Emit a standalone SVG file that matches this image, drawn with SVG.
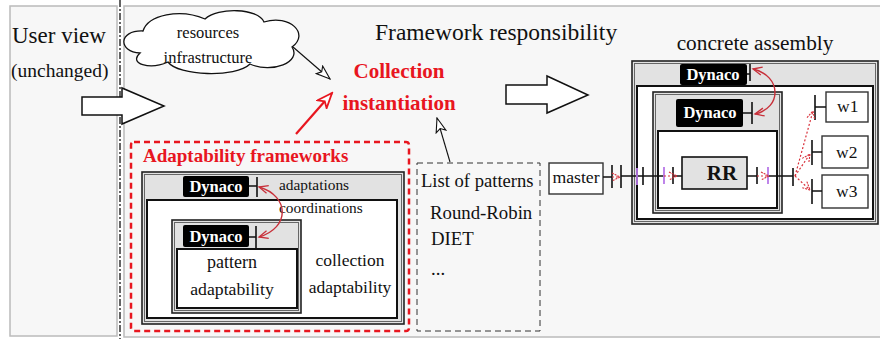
<svg xmlns="http://www.w3.org/2000/svg" width="880" height="339" viewBox="0 0 880 339">
<defs>
<style>
text{font-family:"Liberation Serif","Times New Roman",serif;fill:#111}
.b{font-weight:bold}
.red{fill:#e8161f}
.dyn{fill:#fff;font-weight:bold;font-size:16.5px}
.mid{text-anchor:middle}
.panel{fill:#f7f7f7;stroke:#bbb;stroke-width:1.5}
.gbox{fill:#e2e2e2;stroke:#222;stroke-width:1.6}
.gin{fill:none;stroke:#666;stroke-width:1}
.wbox{fill:#fff;stroke:#111;stroke-width:2}
.node{fill:#fff;stroke:#333;stroke-width:1.4}
.port{stroke:#111;stroke-width:1.6;fill:none}
.pur{stroke:#b878e8;stroke-width:1.8}
.rdot{stroke:#d8303a;stroke-width:1.2;stroke-dasharray:2 2;fill:none}
.rcur{stroke:#c8303a;stroke-width:1.4;fill:none}
.big{fill:#fff;stroke:#111;stroke-width:1.5}
</style>
<marker id="hollow" markerWidth="16" markerHeight="12" refX="15" refY="6" orient="auto" markerUnits="userSpaceOnUse">
<path d="M1,1 L15,6 L1,11 L4,6 Z" fill="#fff" stroke="#111" stroke-width="1.1"/>
</marker>
<marker id="redhead" markerWidth="18" markerHeight="14" refX="16" refY="7" orient="auto" markerUnits="userSpaceOnUse">
<path d="M1,1 L16,7 L1,13 L5,7 Z" fill="#fff" stroke="#e8161f" stroke-width="1.8"/>
</marker>
<marker id="vhead" markerWidth="12" markerHeight="10" refX="10" refY="5" orient="auto-start-reverse" markerUnits="userSpaceOnUse">
<path d="M1,1 L10,5 L1,9" fill="none" stroke="#c8303a" stroke-width="1.3"/>
</marker>
<marker id="dhead" markerWidth="10" markerHeight="10" refX="9" refY="5" orient="auto" markerUnits="userSpaceOnUse">
<path d="M1,1 L9,5 L1,9" fill="none" stroke="#d8303a" stroke-width="1.1" stroke-dasharray="2 1"/>
</marker>
</defs>
<rect width="880" height="339" fill="#fff"/>

<g id="user-panel">
<rect class="panel" x="10" y="6" width="107" height="330"/>
<text x="12" y="43" font-size="23">User view</text>
<text x="11" y="77" font-size="19.5">(unchanged)</text>
</g>
<g id="framework-panel">
<rect class="panel" x="124" y="6" width="770" height="331"/>
<text x="375" y="40" font-size="23.5">Framework responsibility</text>
</g>
<line x1="120" y1="0" x2="120" y2="339" stroke="#111" stroke-width="1.3" stroke-dasharray="7 2 2 2"/>

<g id="cloud">
<path d="M140,53 C118,52 118,30 143,31 C148,15 180,8 205,19 C218,7 258,8 264,22 C290,14 310,34 292,47 C302,62 272,74 250,64 C236,78 178,76 168,62 C150,70 128,64 140,53 Z" fill="#fff" stroke="#111" stroke-width="1.3"/>
<text class="mid" x="208" y="38" font-size="16.5">resources</text>
<text class="mid" x="208" y="63" font-size="16.5">infrastructure</text>
</g>

<g id="collection-instantiation">
<text class="b red mid" x="399" y="78" font-size="21">Collection</text>
<text class="b red mid" x="399" y="110" font-size="21">instantiation</text>
</g>

<g id="adaptability-frameworks">
<rect x="131" y="142" width="278" height="189" rx="3" fill="none" stroke="#e8161f" stroke-width="2.5" stroke-dasharray="6 4"/>
<text class="b red" x="143" y="162" font-size="19">Adaptability frameworks</text>
<rect class="gbox" x="142" y="172" width="262" height="152"/>
<rect class="gin" x="144.5" y="174.5" width="257" height="147"/>
<rect class="wbox" x="147" y="200" width="250" height="118"/>
<rect x="183" y="176" width="66" height="21" rx="2" fill="#000"/>
<text class="dyn mid" x="216" y="192">Dynaco</text>
<path class="port" d="M249,186 H257 M257,177 V197"/>
<text x="279" y="190" font-size="15.4">adaptations</text>
<text x="279" y="213" font-size="15.4">coordinations</text>
<rect class="gbox" x="172" y="220" width="129" height="93"/>
<rect class="gin" x="174.5" y="222.5" width="124" height="88"/>
<rect x="183" y="225" width="66" height="22" rx="2" fill="#000"/>
<text class="dyn mid" x="216" y="242">Dynaco</text>
<path class="port" d="M249,237 H256 M256,226 V250"/>
<rect class="wbox" x="177" y="249" width="120" height="59"/>
<text class="mid" x="232" y="268" font-size="18">pattern</text>
<text class="mid" x="232" y="295" font-size="17.7">adaptability</text>
<text class="mid" x="350" y="266" font-size="17.5">collection</text>
<text class="mid" x="350" y="293" font-size="17.5">adaptability</text>
<path class="rcur" d="M259,187 C290,196 290,228 259,237" marker-start="url(#vhead)" marker-end="url(#vhead)"/>
</g>

<g id="list-of-patterns">
<rect x="417" y="163" width="123" height="168" fill="none" stroke="#333" stroke-width="1" stroke-dasharray="6 4"/>
<text x="421" y="187" font-size="18.6">List of patterns</text>
<text x="430" y="219" font-size="18.8">Round-Robin</text>
<text x="431" y="245" font-size="18.8">DIET</text>
<text x="431" y="275" font-size="18.8">...</text>
</g>

<g id="master">
<rect class="node" x="549" y="163" width="54" height="31"/>
<text class="mid" x="576" y="183" font-size="17.7">master</text>
</g>

<g id="concrete-assembly">
<text class="mid" x="755" y="50" font-size="21.3">concrete assembly</text>
<rect class="gbox" x="632" y="61" width="246" height="163"/>
<rect class="gin" x="634.5" y="63.5" width="241" height="158"/>
<rect class="wbox" x="637" y="86" width="236" height="133"/>
<rect x="680" y="64" width="67" height="21" rx="2" fill="#000"/>
<text class="dyn mid" x="713" y="80">Dynaco</text>
<path class="port" d="M747,74 H750 M750,64 V81"/>
<rect class="gbox" x="653" y="92" width="129" height="121"/>
<rect class="gin" x="655.5" y="94.5" width="124" height="116"/>
<rect x="676" y="99" width="67" height="28" rx="2" fill="#000"/>
<text class="dyn mid" x="710" y="118">Dynaco</text>
<path class="port" d="M743,113 H752 M752,102 V124"/>
<rect class="wbox" x="658" y="131" width="119" height="77"/>
<path class="rcur" d="M753,69 C782,76 782,108 755,114" marker-start="url(#vhead)" marker-end="url(#vhead)"/>
</g>

<g id="RR">
<rect x="682" y="157" width="65" height="32" fill="#e2e2e2" stroke="#111" stroke-width="1.6"/>
<text class="b mid" x="722" y="180" font-size="21">RR</text>
</g>
<g id="w1">
<rect class="node" x="826" y="92" width="42" height="30"/>
<text x="837" y="112" font-size="17.5">w1</text>
</g>
<g id="w2">
<rect class="node" x="822" y="136" width="46" height="32"/>
<text x="836" y="158" font-size="17.5">w2</text>
</g>
<g id="w3">
<rect class="node" x="822" y="175" width="46" height="33"/>
<text x="836" y="197" font-size="17.5">w3</text>
</g>

<g id="connectors">
<polygon class="big" points="82,97 122,97 122,88 164,106 122,124 122,115 82,115"/>
<polygon class="big" points="506,85 547,85 547,76 588,95 547,113 547,104 506,104"/>
<line x1="293" y1="47" x2="330" y2="79" stroke="#111" stroke-width="1.1" marker-end="url(#hollow)"/>
<line x1="450" y1="162" x2="437" y2="118" stroke="#111" stroke-width="1.1" marker-end="url(#hollow)"/>
<line x1="296" y1="134" x2="332" y2="93" stroke="#e8161f" stroke-width="2.2" marker-end="url(#redhead)"/>
<path class="port" d="M603,177 H612 M612,165 V188 M621,165 V188 M621,176 H653 M643,167 V185 M664,176 H651 M673,167 V184 M673,176 H682 M747,176 H757 M757,167 V184 M768,176 H793 M793,168 V186 M815,107 H826 M815,95 V120 M812,152 H822 M812,140 V165 M812,191 H822 M812,179 V204"/>
<path class="pur" d="M637,168 V185 M664,167 V184 M768,167 V184"/>
<path class="rdot" d="M612,177 H620" marker-end="url(#dhead)"/>
<path class="rdot" d="M664,176 H677" marker-end="url(#dhead)"/>
<path class="rdot" d="M757,176 H769" marker-end="url(#dhead)"/>
<path class="rdot" d="M795,176 L813,111" marker-end="url(#dhead)"/>
<path class="rdot" d="M795,176 L810,154" marker-end="url(#dhead)"/>
<path class="rdot" d="M795,176 L810,190" marker-end="url(#dhead)"/>
</g>
</svg>
